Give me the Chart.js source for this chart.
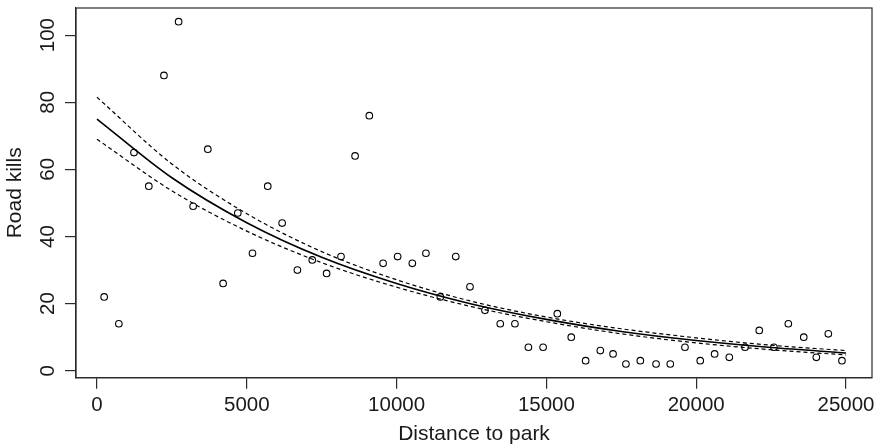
<!DOCTYPE html>
<html>
<head>
<meta charset="utf-8">
<script src="https://cdn.jsdelivr.net/npm/chart.js@4.4.1/dist/chart.umd.min.js"></script>
<style>
  html, body { margin: 0; padding: 0; background: #ffffff; }
  #wrap { width: 880px; height: 447px; }
</style>
</head>
<body>
<div id="wrap"><canvas id="c" width="880" height="447"></canvas></div>
<script>
// Observed data: distance to park (x) and road kills (y)
const distanceToPark = [240, 730, 1235, 1730, 2235, 2725, 3210, 3700, 4210, 4700,
  5190, 5700, 6180, 6690, 7185, 7665, 8145, 8615, 9090, 9550,
  10035, 10525, 10980, 11460, 11975, 12450, 12950, 13460, 13950, 14400,
  14890, 15365, 15830, 16310, 16800, 17225, 17655, 18135, 18660, 19135,
  19625, 20135, 20615, 21105, 21630, 22105, 22595, 23075, 23590, 24010,
  24410, 24865];
const roadKills = [22, 14, 65, 55, 88, 104, 49, 66, 26, 47,
  35, 55, 44, 30, 33, 29, 34, 64, 76, 32,
  34, 32, 35, 22, 34, 25, 18, 14, 14, 7,
  7, 17, 10, 3, 6, 5, 2, 3, 2, 2,
  7, 3, 5, 4, 7, 12, 7, 14, 10, 4,
  11, 3];

// Fitted curve and confidence band
const curveX     = [0, 2500, 5000, 7500, 10000, 12500, 15000, 17500, 20000, 22500, 25000];
const fitted     = [75.0, 57.5, 44.1, 33.8, 26.0, 19.9, 15.3, 11.7, 9.0, 6.9, 5.3];
const upperBand  = [81.5, 61.6, 46.8, 35.5, 27.1, 20.7, 16.0, 12.5, 9.8, 7.6, 6.0];
const lowerBand  = [69.0, 53.6, 41.6, 32.2, 24.9, 19.1, 14.6, 11.0, 8.3, 6.25, 4.7];

// Tick labels
const xTicks = [0, 5000, 10000, 15000, 20000, 25000];
const yTicks = [0, 20, 40, 60, 80, 100];

const xTitle = 'Distance to park';
const yTitle = 'Road kills';

const pts = distanceToPark.map((x, i) => ({ x: x, y: roadKills[i] }));
const curve = arr => curveX.map((x, i) => ({ x: x, y: arr[i] }));

const FONT = "'Liberation Sans', Arial, Helvetica, sans-serif";
const INK = '#1a1a1a';

const boxPlugin = {
  id: 'box',
  afterDraw(chart) {
    const { ctx, chartArea: a } = chart;
    ctx.save();
    ctx.strokeStyle = '#2a2a2a';
    ctx.lineWidth = 1.2;
    ctx.strokeRect(a.left, a.top, a.right - a.left, a.bottom - a.top);
    ctx.restore();
  }
};

const noPad = s => { s.paddingTop = 0; s.paddingBottom = 0; s.paddingLeft = 0; s.paddingRight = 0; };

new Chart(document.getElementById('c'), {
  type: 'scatter',
  data: {
    datasets: [
      {
        label: 'observed',
        data: pts,
        pointStyle: 'circle',
        pointRadius: 3.3,
        pointBorderWidth: 1.1,
        pointBorderColor: '#000',
        pointBackgroundColor: 'rgba(0,0,0,0)',
        showLine: false
      },
      {
        label: 'fit',
        data: curve(fitted),
        showLine: true,
        borderColor: '#000',
        borderWidth: 1.6,
        pointRadius: 0,
        cubicInterpolationMode: 'monotone',
        fill: false
      },
      {
        label: 'upper',
        data: curve(upperBand),
        showLine: true,
        borderColor: '#000',
        borderWidth: 1.2,
        borderDash: [4, 3],
        pointRadius: 0,
        cubicInterpolationMode: 'monotone',
        fill: false
      },
      {
        label: 'lower',
        data: curve(lowerBand),
        showLine: true,
        borderColor: '#000',
        borderWidth: 1.2,
        borderDash: [4, 3],
        pointRadius: 0,
        cubicInterpolationMode: 'monotone',
        fill: false
      }
    ]
  },
  options: {
    responsive: false,
    animation: false,
    devicePixelRatio: 1,
    layout: { padding: { top: 8, right: 8, left: 0, bottom: 0 } },
    plugins: { legend: { display: false }, tooltip: { enabled: false } },
    scales: {
      x: {
        type: 'linear',
        min: -700,
        max: 25868,
        afterBuildTicks: s => { s.ticks = xTicks.map(v => ({ value: v })); },
        afterFit: s => { s.height = 69.3; noPad(s); },
        grid: { drawOnChartArea: false, drawTicks: true, tickLength: 11, color: '#2a2a2a', lineWidth: 1.2 },
        border: { display: true, color: '#2a2a2a', width: 1.2 },
        ticks: {
          color: INK, padding: 4.5, maxRotation: 0, autoSkip: false,
          font: { family: FONT, size: 20.5 },
          callback: v => String(v)
        },
        title: {
          display: true, text: xTitle, color: INK,
          font: { family: FONT, size: 21 }, padding: { top: 0, bottom: 0 }
        }
      },
      y: {
        type: 'linear',
        min: -2.08,
        max: 108.08,
        afterBuildTicks: s => { s.ticks = yTicks.map(v => ({ value: v })); },
        afterFit: s => { s.width = 76; noPad(s); },
        grid: { drawOnChartArea: false, drawTicks: true, tickLength: 11, color: '#2a2a2a', lineWidth: 1.2 },
        border: { display: true, color: '#2a2a2a', width: 1.2 },
        ticks: {
          color: INK, padding: 0, minRotation: 90, maxRotation: 90,
          crossAlign: 'center', autoSkip: false,
          font: { family: FONT, size: 20.5 },
          callback: v => String(v)
        },
        title: {
          display: true, text: yTitle, color: INK,
          font: { family: FONT, size: 21 }, padding: { top: 3, bottom: 0 }
        }
      }
    }
  },
  plugins: [boxPlugin]
});
</script>
</body>
</html>
